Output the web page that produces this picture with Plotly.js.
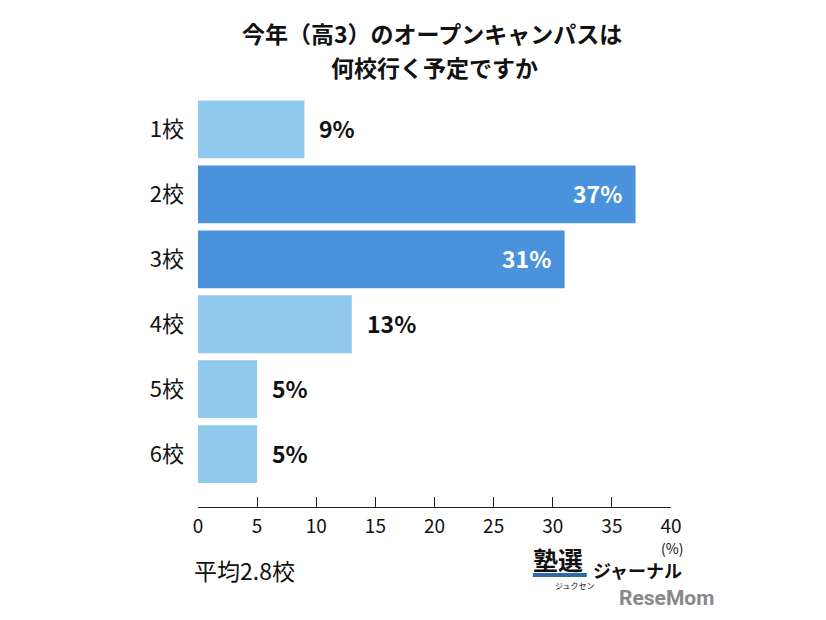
<!DOCTYPE html>
<html><head><meta charset="utf-8">
<script src="https://cdn.plot.ly/plotly-3.0.1.min.js"></script>
<style>body{margin:0;background:#fff}#c{width:826px;height:620px}</style>
</head><body><div id="c"></div>
<script>
const categories = ["1校","2校","3校","4校","5校","6校"];
const values = [9,37,31,13,5,5];
const labels = ["9%","37%","31%","13%","5%","5%"];
const xTicks = [0,5,10,15,20,25,30,35,40];

const light = "#90c8ee", dark = "#4a92db";
const F = "Noto Sans CJK JP";
const isIn = values.map(v => v > 20);

const trace = {
  type: "bar", orientation: "h",
  x: values, y: categories,
  marker: {color: values.map((v, i) => isIn[i] ? dark : light)},
  cliponaxis: false, hoverinfo: "none"
};

const valueAnns = values.map((v, i) => ({
  x: v, y: categories[i], xref: "x", yref: "y",
  text: "<b>" + labels[i] + "</b>", showarrow: false,
  xanchor: isIn[i] ? "right" : "left", yanchor: "middle",
  xshift: isIn[i] ? -12 : 13, yshift: 1,
  font: {family: F, size: 23, color: isIn[i] ? "#ffffff" : "#111111"}
}));

const layout = {
  width: 826, height: 620,
  margin: {l: 198, r: 155, t: 96.5, b: 113},
  paper_bgcolor: "#fff", plot_bgcolor: "#fff",
  bargap: 0.11,
  showlegend: false,
  font: {family: F, color: "#111"},
  xaxis: {
    range: [0, 40], tickvals: xTicks, ticks: "inside", ticklen: 10, tickwidth: 1,
    tickcolor: "#222", showline: true, linecolor: "#222", linewidth: 1,
    showgrid: false, zeroline: false, fixedrange: true, ticklabelstandoff: 2,
    tickfont: {family: F, size: 19, color: "#111"}
  },
  yaxis: {
    type: "category", categoryarray: categories,
    range: [5.815, -0.5], showgrid: false, zeroline: false, showline: false,
    ticks: "", ticklabelstandoff: 13,
    tickfont: {family: F, size: 22, color: "#111"}, fixedrange: true
  },
  annotations: valueAnns.concat([
    {text: "<b>今年（高3）のオープンキャンパスは</b>", xref: "paper", yref: "paper",
     x: 0.5, y: 1, xanchor: "center", yanchor: "middle", showarrow: false,
     font: {family: F, size: 23, color: "#111"}, yshift: 64, xshift: -3},
    {text: "<b>何校行く予定ですか</b>", xref: "paper", yref: "paper",
     x: 0.5, y: 1, xanchor: "center", yanchor: "middle", showarrow: false,
     font: {family: F, size: 23, color: "#111"}, yshift: 30},
    {text: "(%)", xref: "paper", yref: "paper", x: 1, y: 0, xanchor: "center", yanchor: "middle",
     showarrow: false, font: {family: F, size: 14, color: "#111"}, yshift: -41, xshift: 1},
    {text: "平均2.8校", xref: "paper", yref: "paper", x: 0, y: 0, xanchor: "left", yanchor: "middle",
     showarrow: false, font: {family: F, size: 23, color: "#111"}, yshift: -63, xshift: -6},
    {text: "<b>塾選</b>", xref: "paper", yref: "paper", x: 0, y: 0, xanchor: "left", yanchor: "middle",
     showarrow: false, font: {family: F, size: 25, color: "#111"}, yshift: -52, xshift: 333},
    {text: "<b>ジャーナル</b>", xref: "paper", yref: "paper", x: 0, y: 0, xanchor: "left", yanchor: "middle",
     showarrow: false, font: {family: F, size: 18, color: "#111"}, yshift: -63, xshift: 393},
    {text: "ジュクセン", xref: "paper", yref: "paper", x: 0, y: 0, xanchor: "left", yanchor: "middle",
     showarrow: false, font: {family: F, size: 8, color: "#111"}, yshift: -78, xshift: 355},
    {text: "<b>ReseMom</b>", xref: "paper", yref: "paper", x: 0, y: 0, xanchor: "left", yanchor: "middle",
     showarrow: false, font: {family: "Roboto", size: 21, color: "#888"}, yshift: -91, xshift: 419}
  ]),
  shapes: [{type: "line", xref: "paper", yref: "paper", x0: 0.708, x1: 0.822, y0: -0.1657, y1: -0.1657,
    line: {color: "#2e6aa8", width: 4}}]
};

Plotly.newPlot("c", [trace], layout, {displayModeBar: false, staticPlot: true});
</script></body></html>
